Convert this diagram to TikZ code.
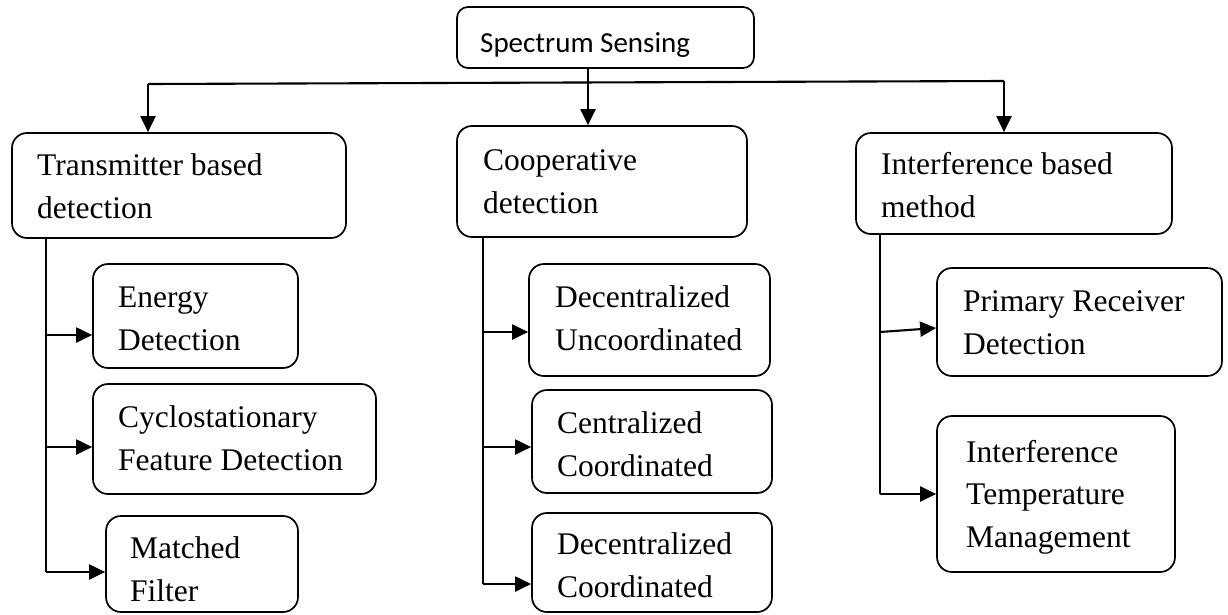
\documentclass[tikz,border=0pt]{standalone}
\usepackage{fontspec}
\setmainfont{Liberation Serif}
\newfontfamily\calfont{Carlito}
\usetikzlibrary{arrows.meta,calc}

\tikzset{
  box/.style={draw=black, line width=1.7pt, rounded corners=15pt, inner sep=0pt},
  topbox/.style={box, rounded corners=11pt},
  % multi-line labels are placed by the baseline of their last line
  lbl/.style={inner sep=0pt, align=left, anchor=base west,
              font=\fontsize{31.5}{42.5}\selectfont},
  toplbl/.style={inner sep=0pt, anchor=base west,
              font=\calfont\fontsize{29}{35}\selectfont},
  conn/.style={line width=2.1pt},
  arr/.style={conn, -{Triangle[length=16pt,width=15pt]}},
}

% rounded box given by its name and left, top, right, bottom edges
\newcommand\rbox[6][box]{%
  \node[#1, minimum width={(#5-#3)*1pt}, minimum height={(#6-#4)*1pt}]
    (#2) at ({(#3+#5)/2},{(#4+#6)/2}) {};}

\begin{document}
\begin{tikzpicture}[x=1pt, y=-1pt]
\useasboundingbox (0,0) rectangle (1228,614);

% ---- boxes ----
\rbox[topbox]{ss}{457}{7}{754}{68}
\rbox{tx}{12}{133}{346}{238}
\rbox{en}{93}{264}{298}{368}
\rbox{cy}{93}{384}{376}{494}
\rbox{mf}{106}{516}{298}{612}
\rbox{co}{457}{126}{747}{237}
\rbox{du}{529}{264}{770}{376}
\rbox{cc}{532}{390}{772}{493}
\rbox{dc}{532}{513}{772}{612}
\rbox{ib}{856}{133}{1172}{234}
\rbox{pr}{937}{268}{1222}{376}
\rbox{it}{937}{416}{1175}{572}

% ---- labels ----
\node[toplbl] (ss-t) at (480,52) {Spectrum Sensing};
\node[lbl] (tx-t) at (37,218) {Transmitter based\\detection};
\node[lbl] (en-t) at (118,350) {Energy\\Detection};
\node[lbl] (cy-t) at (118,470) {Cyclostationary\\Feature Detection};
\node[lbl] (mf-t) at (130,601) {Matched\\Filter};
\node[lbl] (co-t) at (483,213) {Cooperative\\detection};
\node[lbl] (du-t) at (555,350) {Decentralized\\Uncoordinated};
\node[lbl] (cc-t) at (557,476) {Centralized\\Coordinated};
\node[lbl] (dc-t) at (557,597) {Decentralized\\Coordinated};
\node[lbl] (ib-t) at (881,217) {Interference based\\method};
\node[lbl] (pr-t) at (963,354) {Primary Receiver\\Detection};
\node[lbl] (it-t) at (966,547) {Interference\\Temperature\\Management};

% ---- top level distribution ----
\coordinate (hl) at (148,84);
\coordinate (hr) at (1004,81);
\draw[conn] (hl) -- (hr);
\draw[arr] (hl) -- (hl |- tx.north);
\draw[arr] (hr) -- (hr |- ib.north);
\draw[arr] (ss.south -| co.north) ++(-14,0) coordinate (sc) -- (sc |- co.north);

% ---- transmitter based branch ----
\coordinate (t1) at (46,335);
\coordinate (t2) at (46,447);
\coordinate (t3) at (46,572);
\draw[conn] (t3 |- tx.south) -- (t3);
\draw[arr] (t1) -- (t1 -| en.west);
\draw[arr] (t2) -- (t2 -| cy.west);
\draw[arr] (t3) -- (t3 -| mf.west);

% ---- cooperative branch ----
\coordinate (c1) at (483,332);
\coordinate (c2) at (483,447);
\coordinate (c3) at (483,584);
\draw[conn] (c3 |- co.south) -- (c3);
\draw[arr] (c1) -- (c1 -| du.west);
\draw[arr] (c2) -- (c2 -| cc.west);
\draw[arr] (c3) -- (c3 -| dc.west);

% ---- interference based branch ----
\coordinate (i1) at (880,332);
\coordinate (i2) at (880,494);
\draw[conn] (i2 |- ib.south) -- (i2);
\draw[arr] (i1) -- ($(pr.west)+(0,6)$);
\draw[arr] (i2) -- (i2 -| it.west);
\end{tikzpicture}
\end{document}
